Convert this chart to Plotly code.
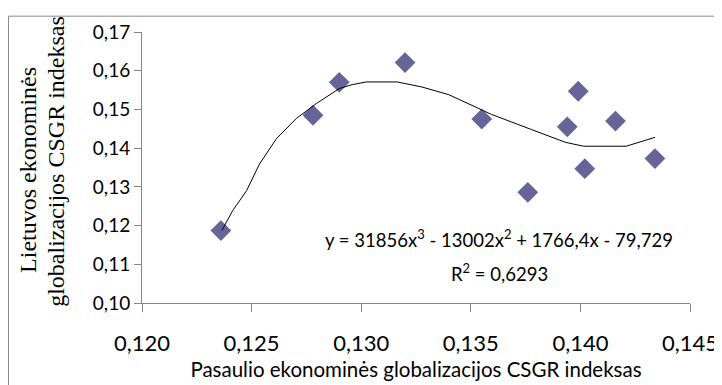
"""Lietuvos ir pasaulio ekonominės globalizacijos CSGR indeksų sklaida su 3 laipsnio tendencija"""

import plotly.graph_objects as go

# Taškai (pasaulio indeksas, Lietuvos indeksas)
pasaulio_idx = [0.1236, 0.1278, 0.1290, 0.1320, 0.1355, 0.1399,
                0.1394, 0.1416, 0.1402, 0.1376, 0.1434]
lietuvos_idx = [0.1187, 0.1485, 0.1570, 0.1621, 0.1475, 0.1547,
                0.1455, 0.1470, 0.1347, 0.1286, 0.1373]

# Tendencijos linija, nuskaityta nuo paveikslo
trend_x = [0.12364, 0.12414, 0.12477, 0.12536, 0.12614, 0.12705, 0.12795,
           0.12900, 0.12959, 0.13023, 0.13164, 0.13277, 0.13400, 0.13491,
           0.13595, 0.13777, 0.13932, 0.14014, 0.14209, 0.14341]
trend_y = [0.1187, 0.1239, 0.1290, 0.1359, 0.1425, 0.1477, 0.1515,
           0.1554, 0.1564, 0.1571, 0.1571, 0.1558, 0.1538, 0.1515,
           0.1487, 0.1448, 0.1415, 0.1405, 0.1405, 0.1428]

lygtis = "y = 31856x<sup>3</sup> - 13002x<sup>2</sup> + 1766,4x - 79,729"
r_kv = "R<sup>2</sup> = 0,6293"
y_pavad = ["Lietuvos ekonominės", "globalizacijos CSGR indeksas"]

fig = go.Figure()

fig.add_trace(go.Scatter(
    x=pasaulio_idx, y=lietuvos_idx,
    mode='markers',
    marker=dict(symbol='diamond', size=16, color='#65659a'),
    showlegend=False
))

fig.add_trace(go.Scatter(
    x=trend_x, y=trend_y,
    mode='lines',
    line=dict(color='black', width=1),
    showlegend=False,
    hoverinfo='skip'
))

# Lygtis ir R^2
fig.add_annotation(
    x=0.1363, y=0.1166, xref='x', yref='y',
    text=lygtis, showarrow=False,
    font=dict(family='Lato', size=18.5, color='black')
)
fig.add_annotation(
    x=0.1363, y=0.1079, xref='x', yref='y',
    text=r_kv, showarrow=False,
    font=dict(family='Lato', size=18.5, color='black')
)

# Y ašies pavadinimas (dvi eilutės, atskirai)
for tekstas, px, py in zip(y_pavad, [-0.2073, -0.1582], [0.4927, 0.5220]):
    fig.add_annotation(
        x=px, y=py, xref='paper', yref='paper',
        xanchor='center', yanchor='middle',
        text=tekstas, textangle=-90, showarrow=False,
        font=dict(family='Liberation Serif', size=24, color='black')
    )

# Diagramos rėmelis (kairė ir viršus)
fig.add_shape(type='line', xref='paper', yref='paper',
              x0=-0.2436, x1=-0.2436, y0=1.0584, y1=-0.35,
              line=dict(color='#8c8c8c', width=1))
fig.add_shape(type='line', xref='paper', yref='paper',
              x0=-0.2436, x1=1.1, y0=1.0584, y1=1.0584,
              line=dict(color='#8c8c8c', width=1))

# paraštės sumažintos 8 px dėl puslapio body paraštės
fig.update_layout(
    width=722, height=385,
    margin=dict(l=134, r=38, t=21, b=90),
    plot_bgcolor='white', paper_bgcolor='white',
    separators=', ',
    showlegend=False,
    xaxis=dict(
        range=[0.120, 0.145], dtick=0.005, tick0=0.120,
        tickformat='.3f',
        showgrid=False, zeroline=False,
        showline=True, linecolor='#868686', linewidth=1,
        ticks='outside', ticklen=8, tickcolor='#868686',
        ticklabelstandoff=13,
        tickfont=dict(family='Lato', size=22, color='black'),
        title=dict(text='Pasaulio ekonominės globalizacijos CSGR indeksas',
                   font=dict(family='Lato', size=20.5, color='black'),
                   standoff=7)
    ),
    yaxis=dict(
        range=[0.10, 0.17], dtick=0.01, tick0=0.10,
        tickformat='.2f',
        showgrid=False, zeroline=False,
        showline=True, linecolor='#868686', linewidth=1,
        ticks='outside', ticklen=7, tickcolor='#868686',
        tickfont=dict(family='Lato', size=19, color='black')
    )
)

fig.write_html("out.html")
